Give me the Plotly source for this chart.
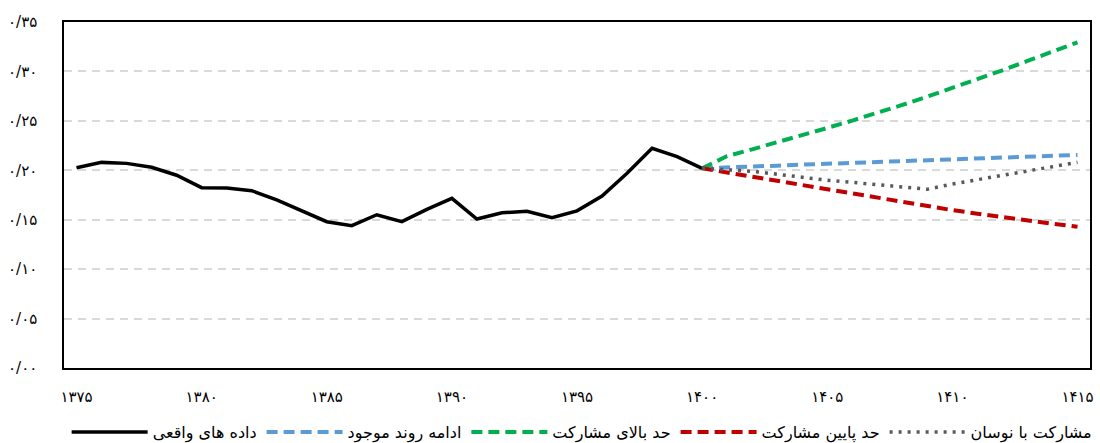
import plotly.graph_objects as go

# ---- data ----
years_actual = list(range(1375, 1401))
actual = [0.2026, 0.208, 0.207, 0.203, 0.195, 0.1824, 0.182, 0.1794, 0.170, 0.1588,
          0.148, 0.144, 0.155, 0.148, 0.1605, 0.1716, 0.1507, 0.157, 0.1585, 0.152,
          0.159, 0.174, 0.197, 0.2222, 0.2138, 0.202]

years_fc = list(range(1400, 1416))
trend = [0.202, 0.2026, 0.2037, 0.2047, 0.2057, 0.2066, 0.2075, 0.2084, 0.2093, 0.2102,
         0.2110, 0.2117, 0.2125, 0.2134, 0.2144, 0.2155]
upper = [0.202, 0.2144, 0.2212, 0.2282, 0.2355, 0.2428, 0.2503, 0.258, 0.2661, 0.2745,
         0.2831, 0.2919, 0.3011, 0.3106, 0.320, 0.3294]
lower = [0.202, 0.1977, 0.1933, 0.189, 0.1848, 0.1805, 0.1762, 0.172, 0.1678, 0.1637,
         0.1597, 0.1561, 0.1525, 0.1491, 0.1459, 0.1429]
fluct = [0.202, 0.2003, 0.199, 0.196, 0.1929, 0.1899, 0.1878, 0.1854, 0.1834, 0.1808,
         0.1861, 0.1902, 0.1945, 0.1993, 0.2036, 0.2081]

series_names = ["داده های واقعی", "ادامه روند موجود", "حد بالای مشارکت",
                "حد پایین مشارکت", "مشارکت با نوسان"]

x_tick_vals = [1375, 1380, 1385, 1390, 1395, 1400, 1405, 1410, 1415]
x_tick_labels = ["۱۳۷۵", "۱۳۸۰", "۱۳۸۵", "۱۳۹۰", "۱۳۹۵", "۱۴۰۰", "۱۴۰۵", "۱۴۱۰", "۱۴۱۵"]
y_tick_vals = [0.0, 0.05, 0.10, 0.15, 0.20, 0.25, 0.30, 0.35]
y_tick_labels = ["۰/۰۰", "۰/۰۵", "۰/۱۰", "۰/۱۵", "۰/۲۰", "۰/۲۵", "۰/۳۰", "۰/۳۵"]

FONT = "DejaVu Sans"

fig = go.Figure()
fig.add_trace(go.Scatter(x=years_actual, y=actual, mode="lines", name=series_names[0],
                         line=dict(color="#000000", width=3.5)))
fig.add_trace(go.Scatter(x=years_fc, y=trend, mode="lines", name=series_names[1],
                         line=dict(color="#5b9bd5", width=4, dash="11px,6px")))
fig.add_trace(go.Scatter(x=years_fc, y=upper, mode="lines", name=series_names[2],
                         line=dict(color="#00b050", width=4, dash="11px,6px")))
fig.add_trace(go.Scatter(x=years_fc, y=lower, mode="lines", name=series_names[3],
                         line=dict(color="#c00000", width=4, dash="11px,6px")))
fig.add_trace(go.Scatter(x=years_fc, y=fluct, mode="lines", name=series_names[4],
                         line=dict(color="#595959", width=3.5, dash="3px,6px")))

fig.update_layout(
    width=1100, height=443,
    margin=dict(l=64, r=10, t=22, b=75, autoexpand=False),
    paper_bgcolor="white", plot_bgcolor="white",
    font=dict(family=FONT, size=15, color="#000000"),
    showlegend=True,
    legend=dict(orientation="h", x=0.505, xanchor="center", y=-0.185, yanchor="middle",
                font=dict(family=FONT, size=16, color="#000000"),
                itemwidth=76, traceorder="normal", bgcolor="rgba(0,0,0,0)"),
)
fig.update_xaxes(
    range=[1374.5, 1415.5], tickmode="array", tickvals=x_tick_vals, ticktext=x_tick_labels,
    showgrid=False, zeroline=False, showline=True, mirror=True, automargin=False,
    linecolor="#000000", linewidth=1.5,
    ticks="outside", ticklen=14, tickcolor="rgba(0,0,0,0)",
    tickfont=dict(family=FONT, size=15, color="#000000"),
)
fig.update_yaxes(
    range=[0, 0.35], tickmode="array", tickvals=y_tick_vals, ticktext=y_tick_labels,
    showgrid=True, gridcolor="#d9d9d9", gridwidth=1.5, griddash="8px,6px",
    zeroline=False, showline=True, mirror=True, automargin=False,
    linecolor="#000000", linewidth=1.5,
    ticks="outside", ticklen=22, tickcolor="rgba(0,0,0,0)",
    tickfont=dict(family=FONT, size=15, color="#000000"),
)

fig.write_html("out.html",
               config={"displayModeBar": False},
               post_script="document.body.style.margin='0px';document.body.style.overflow='hidden';")
